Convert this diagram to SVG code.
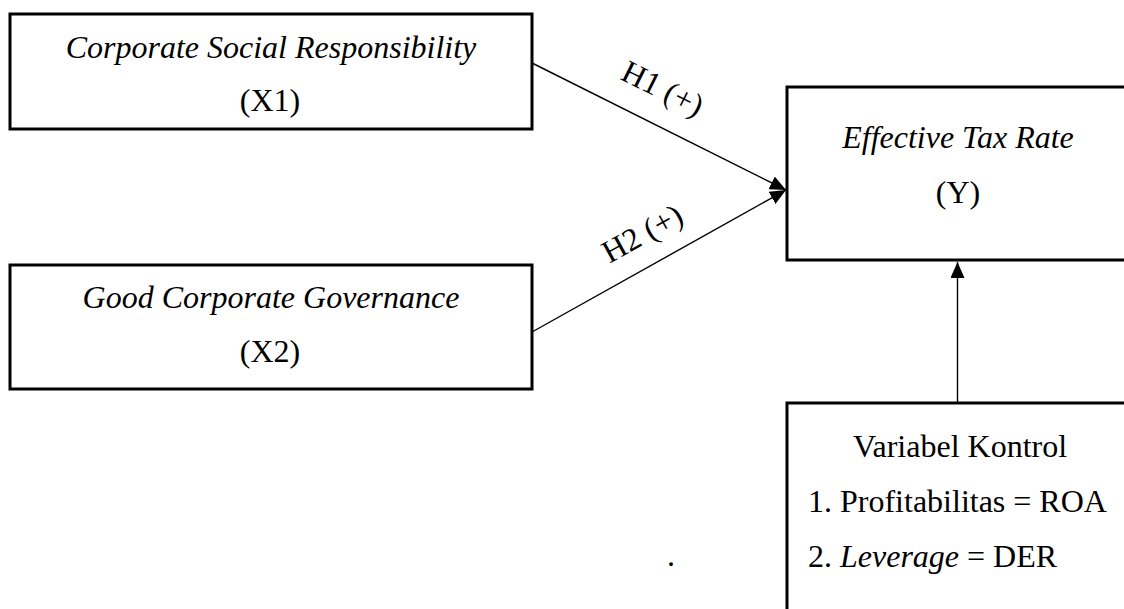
<svg xmlns="http://www.w3.org/2000/svg" width="1124" height="609" viewBox="0 0 1124 609">
<style>
.box{fill:#fff;stroke:#000;stroke-width:3}
.t{font-family:"Liberation Serif","Times New Roman",serif;font-size:32px;fill:#000}
.c{text-anchor:middle}
.i{font-style:italic}
.con{stroke:#000;stroke-width:1.4;fill:none}
</style>
<defs>
<marker id="ah" viewBox="0 0 16 14" refX="16" refY="7" markerWidth="16" markerHeight="14" markerUnits="userSpaceOnUse" orient="auto">
<path d="M0,0 L16,7 L0,14 Z" fill="#000"/>
</marker>
</defs>
<rect width="1124" height="609" fill="#fff"/>
<g id="x1">
<rect class="box" x="10" y="14" width="522" height="115"/>
<text class="t c i" x="271" y="58">Corporate Social Responsibility</text>
<text class="t c" x="270" y="111">(X1)</text>
</g>
<g id="x2">
<rect class="box" x="10" y="265" width="522" height="124"/>
<text class="t c i" x="271" y="308">Good Corporate Governance</text>
<text class="t c" x="270" y="362">(X2)</text>
</g>
<g id="y">
<rect class="box" x="787" y="87" width="345" height="173"/>
<text class="t c i" x="958" y="148">Effective Tax Rate</text>
<text class="t c" x="958" y="203">(Y)</text>
</g>
<g id="kontrol">
<rect class="box" x="787" y="403" width="345" height="215"/>
<text class="t c" x="960" y="457">Variabel Kontrol</text>
<text class="t" x="808" y="512">1. Profitabilitas = ROA</text>
<text class="t" x="808" y="567">2. <tspan class="i">Leverage</tspan> = DER</text>
</g>
<g id="connectors">
<line class="con" x1="532" y1="63" x2="786" y2="190" marker-end="url(#ah)"/>
<line class="con" x1="532" y1="332" x2="786" y2="190" marker-end="url(#ah)"/>
<line class="con" x1="957.5" y1="403" x2="957.5" y2="262" marker-end="url(#ah)"/>
<text class="t" transform="translate(663,88) rotate(26.5)" text-anchor="middle" dy="0.35em">H1 (+)</text>
<text class="t" transform="translate(642,233) rotate(-29)" text-anchor="middle" dy="0.35em">H2 (+)</text>
</g>
<text class="t" x="667" y="566">.</text>
</svg>
